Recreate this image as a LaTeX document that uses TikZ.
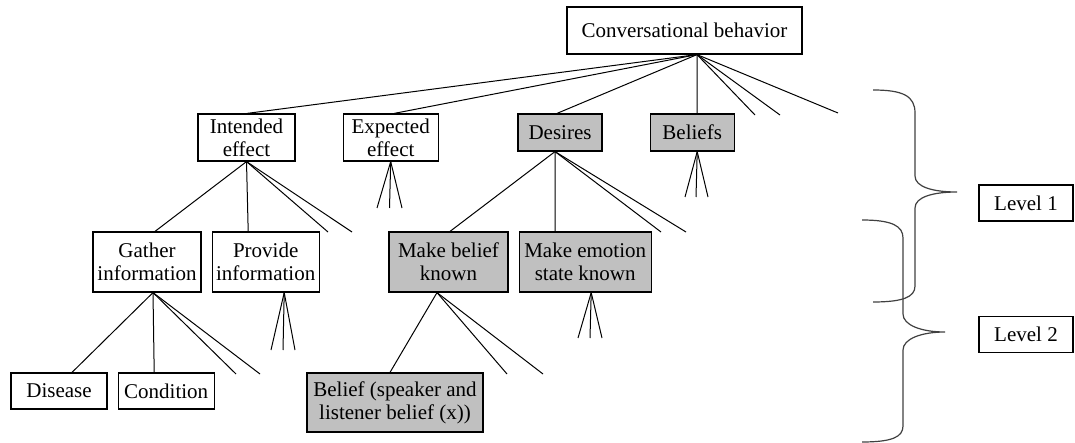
\documentclass[tikz,border=0pt]{standalone}
\usepackage{fontspec}
\setmainfont{Liberation Serif}
\usetikzlibrary{positioning}

\definecolor{boxgray}{RGB}{192,192,192}

\begin{document}
\begin{tikzpicture}[
    x=0.5pt, y=-0.5pt,
    box/.style={rectangle, draw, line width=0.6pt, inner sep=1pt, align=center, font=\fontsize{10.5}{11.6}\selectfont},
    shaded/.style={box, fill=boxgray},
    link/.style={line width=0.5pt},
    curly/.style={line width=0.6pt, draw=black!75}
]
\useasboundingbox (0,0) rectangle (1075,443);

% level 0 and level 1
\node[box, minimum width=117.5pt, minimum height=23.5pt] (conv) at (684.5,30.5) {Conversational behavior};
\node[box, minimum width=48.5pt, minimum height=23.5pt] (intended) at (246.5,137.5) {Intended\\effect};
\node[box, minimum width=47.5pt, minimum height=23.5pt, right=23.5pt of intended] (expected) {Expected\\effect};
\node[shaded, minimum width=42pt, minimum height=18.5pt] (desires) at (560,132.5) {Desires};
\node[shaded, minimum width=42pt, minimum height=18.5pt, right=23.5pt of desires] (beliefs) {Beliefs};

% level 2
\node[box, minimum width=54pt, minimum height=30pt] (gather) at (147,262) {Gather\\information};
\node[box, minimum width=53.5pt, minimum height=30pt, right=5pt of gather] (provide) {Provide\\information};
\node[shaded, minimum width=59.5pt, minimum height=30pt] (mkbelief) at (448.5,262) {Make belief\\known};
\node[shaded, minimum width=66pt, minimum height=30pt, right=5pt of mkbelief] (mkemotion) {Make emotion\\state known};

% level 3
\node[box, minimum width=48pt, minimum height=18pt] (disease) at (59,391) {Disease};
\node[box, minimum width=48pt, minimum height=18pt, right=5pt of disease] (condition) {Condition};
\node[shaded, minimum width=88pt, minimum height=29.5pt] (spkbelief) at (395,402.5) {Belief (speaker and\\listener belief (x))};

% level labels
\node[box, minimum width=47pt, minimum height=18pt] (lvlone) at (1026,203) {Level 1};
\node[box, minimum width=47pt, minimum height=18pt, below=47pt of lvlone] (lvltwo) {Level 2};

% loose ends of the branches
\foreach \nm/\px/\py in {convA/755/115, convB/780/115, convC/838/113,
    intA/328/232, intB/352/232, desA/661/232, desB/686/232,
    gatA/236/374, gatB/260/374, mkbA/507/374, mkbB/543/374,
    expA/377/208, expB/389.5/208, expC/402/208,
    belA/685/197, belB/696/197, belC/708/197,
    proA/271/350, proB/283/350, proC/295/350,
    emoA/578/338, emoB/590/338, emoC/602/338}
    \coordinate (\nm) at (\px,\py);

% tree edges
\draw[link] ([xshift=6.25pt]conv.south) -- ([xshift=0.25pt]intended.north);
\draw[link] ([xshift=6.25pt]conv.south) -- ([xshift=1.75pt]expected.north);
\draw[link] ([xshift=6.25pt]conv.south) -- ([xshift=-1.5pt]desires.north);
\draw[link] ([xshift=6.25pt]conv.south) -- ([xshift=2.5pt]beliefs.north);
\foreach \e in {convA,convB,convC}
    \draw[link] ([xshift=6.25pt]conv.south) -- (\e);

\draw[link] (intended.south) -- ([xshift=4pt]gather.north);
\draw[link] (intended.south) -- ([xshift=-8.75pt]provide.north);
\foreach \e in {intA,intB}
    \draw[link] (intended.south) -- (\e);

\draw[link] ([xshift=-2.5pt]desires.south) -- ([xshift=0.75pt]mkbelief.north);
\draw[link] ([xshift=-2.5pt]desires.south) -- ([xshift=-15pt]mkemotion.north);
\foreach \e in {desA,desB}
    \draw[link] ([xshift=-2.5pt]desires.south) -- (\e);

\draw[link] ([xshift=3pt]gather.south) -- ([xshift=6.5pt]disease.north);
\draw[link] ([xshift=3pt]gather.south) -- ([xshift=-6pt]condition.north);
\foreach \e in {gatA,gatB}
    \draw[link] ([xshift=3pt]gather.south) -- (\e);

\draw[link] ([xshift=-5.75pt]mkbelief.south) -- ([xshift=-2.5pt]spkbelief.north);
\foreach \e in {mkbA,mkbB}
    \draw[link] ([xshift=-5.75pt]mkbelief.south) -- (\e);

% collapsed subtrees
\foreach \e in {expA,expB,expC}
    \draw[link] (expected.south) -- (\e);
\foreach \e in {belA,belB,belC}
    \draw[link] ([xshift=2.5pt]beliefs.south) -- (\e);
\foreach \e in {proA,proB,proC}
    \draw[link] ([xshift=9.25pt]provide.south) -- (\e);
\foreach \e in {emoA,emoB,emoC}
    \draw[link] ([xshift=3pt]mkemotion.south) -- (\e);

% braces
\draw[curly] (873,90) .. controls (903,90) and (915,96) .. (915,113) -- (915,176)
    .. controls (915,187) and (933,192) .. (957,192)
    .. controls (933,192) and (915,197) .. (915,208) -- (915,286)
    .. controls (915,297) and (903,302) .. (873,302);
\draw[curly] (862,220) .. controls (892,220) and (903,226) .. (903,238) -- (903,314)
    .. controls (903,325) and (921,332) .. (945,332)
    .. controls (921,332) and (903,339) .. (903,350) -- (903,426)
    .. controls (903,437) and (892,442) .. (862,442);
\end{tikzpicture}
\end{document}
